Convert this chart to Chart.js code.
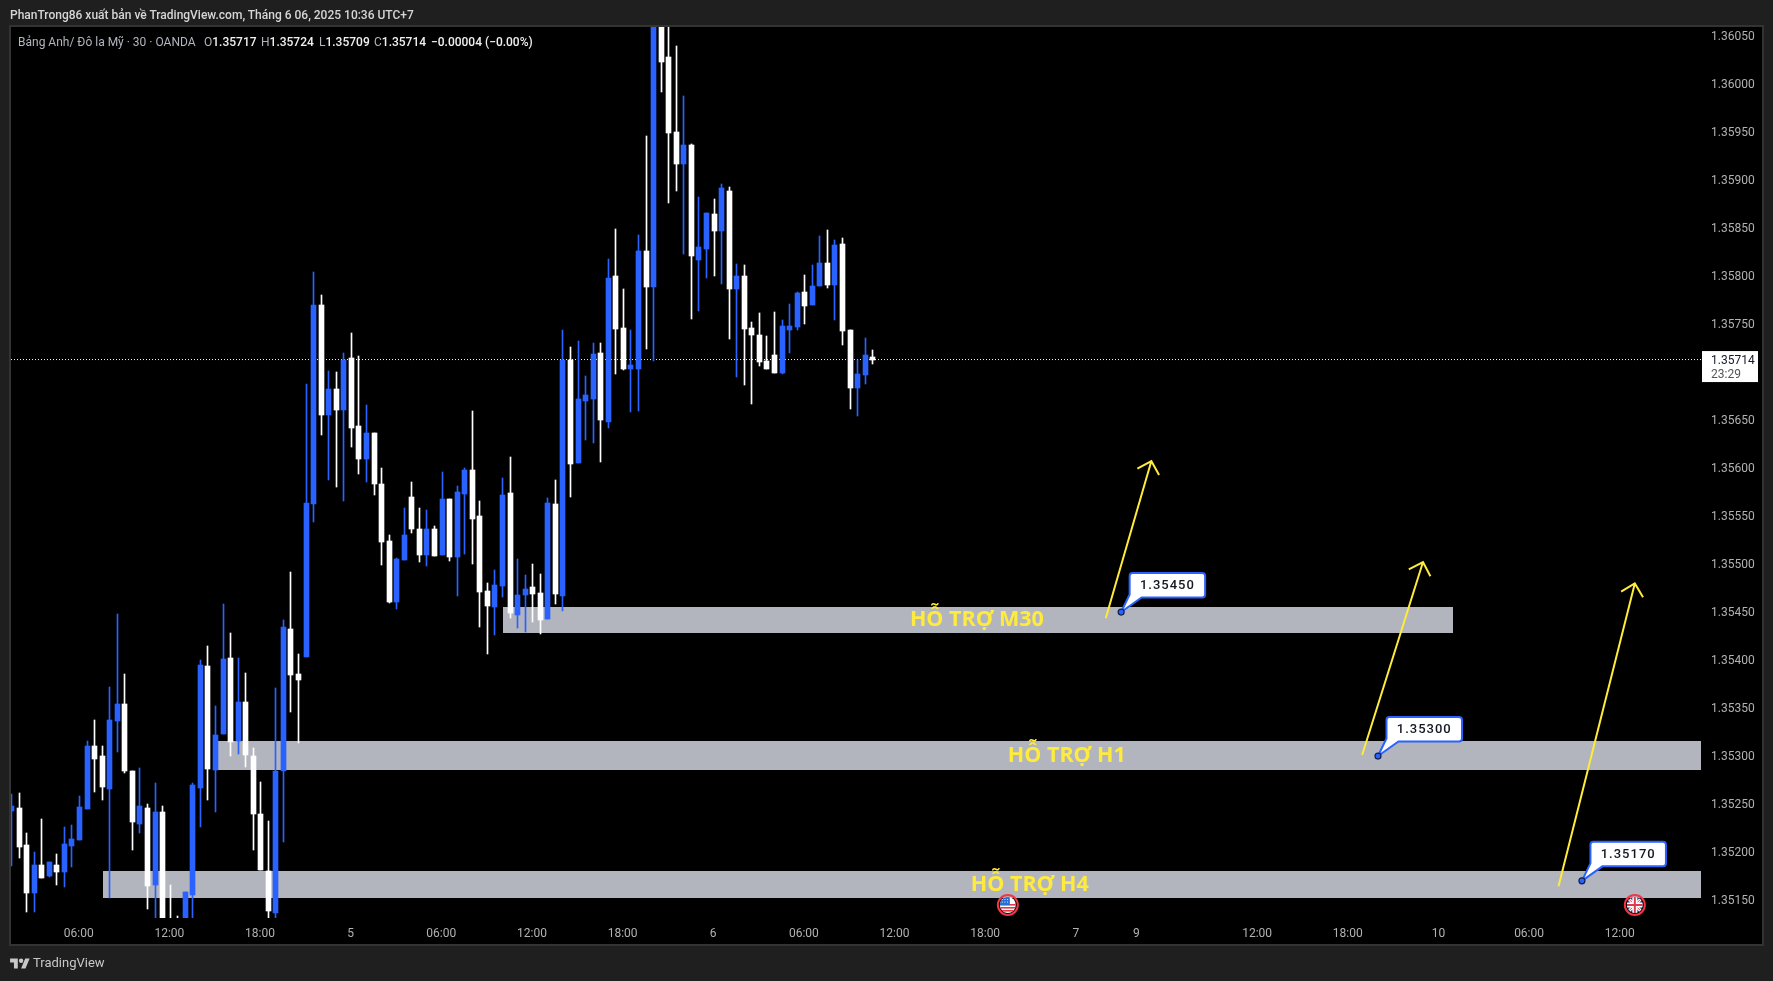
<!DOCTYPE html>
<html lang="vi">
<head>
<meta charset="utf-8">
<title>GBPUSD 30</title>
<script src="https://cdn.jsdelivr.net/npm/chart.js@4/dist/chart.umd.min.js"></script>
<style>
  html, body { margin: 0; padding: 0; background: #1f1f1f; }
  body { width: 1773px; height: 981px; position: relative; overflow: hidden; font-family: Roboto, sans-serif; }
  canvas { position: absolute; left: 0; top: 0; }
  .txt { position: absolute; white-space: nowrap; line-height: 16px; font-size: 12px; color: #b2b5be; }
  .txt b { color: #f0f0f0; font-weight: 500; }
  #byline { left: 10px; top: 7px; color: #d6d6d6; font-weight: 500; }
  #brand { left: 33px; top: 954px; font-size: 13px; line-height: 18px; color: #c8c8c8; }
  #logo { position: absolute; left: 10px; top: 958px; }
</style>
</head>
<body>
<canvas id="grafico" width="1773" height="981"></canvas>
<div class="txt" id="byline">PhanTrong86 xuất bản về TradingView.com, Tháng 6 06, 2025 10:36 UTC+7</div>
<div class="txt" style="left:18px;top:34px">Bảng Anh/ Đô la Mỹ · 30 · OANDA</div>
<div class="txt" style="left:204px;top:34px">O<b>1.35717</b></div>
<div class="txt" style="left:261px;top:34px">H<b>1.35724</b></div>
<div class="txt" style="left:319px;top:34px">L<b>1.35709</b></div>
<div class="txt" style="left:374px;top:34px">C<b>1.35714</b></div>
<div class="txt" style="left:431px;top:34px"><b>−0.00004 (−0.00%)</b></div>
<svg id="logo" width="20" height="11" viewBox="0 3 36 20"><path fill="#c8c8c8" d="M14 22H7V11H0V4h14v18zM28 22h-8l7.5-18h8L28 22z"/><circle fill="#c8c8c8" cx="20" cy="8" r="4"/></svg>
<div class="txt" id="brand">TradingView</div>
<script>
// 30 minute bars, bar 0 is the 06:00 label of the first day
const firstBar = -9;
const opens = [
  1.35244,1.35247,1.35208,1.35158,1.35188,1.35176,1.35188,1.35180,1.35207,1.35214,
  1.35246,1.35311,1.35301,1.35267,1.35338,1.35355,1.35285,1.35230,1.35247,1.35167,
  1.35243,1.35127,1.35128,1.35123,1.35156,1.35268,1.35395,1.35286,1.35324,1.35403,
  1.35317,1.35357,1.35301,1.35241,1.35181,1.35138,1.35285,1.35433,1.35386,1.35404,
  1.35564,1.35771,1.35656,1.35683,1.35661,1.35716,1.35645,1.35610,1.35638,1.35584,
  1.35525,1.35461,1.35505,1.35571,1.35538,1.35510,1.35538,1.35510,1.35569,1.35508,
  1.35574,1.35599,1.35551,1.35473,1.35456,1.35478,1.35575,1.35448,1.35469,1.35477,
  1.35471,1.35444,1.35564,1.35468,1.35714,1.35606,1.35671,1.35673,1.35721,1.35649,
  1.35801,1.35747,1.35704,1.35704,1.35827,1.35790,1.36105,1.36029,1.35951,1.35918,
  1.35938,1.35818,1.35829,1.35866,1.35848,1.35890,1.35788,1.35801,1.35747,1.35740,
  1.35712,1.35719,1.35700,1.35745,1.35748,1.35784,1.35771,1.35791,1.35815,1.35792,
  1.35834,1.35745,1.35684,1.35698,1.35717
];
const highs = [
  1.35261,1.35262,1.35221,1.35201,1.35235,1.35191,1.35199,1.35227,1.35229,1.35259,
  1.35317,1.35339,1.35311,1.35373,1.35449,1.35386,1.35285,1.35289,1.35251,1.35273,
  1.35249,1.35167,1.35134,1.35159,1.35273,1.35401,1.35416,1.35353,1.35459,1.35429,
  1.35403,1.35388,1.35309,1.35274,1.35233,1.35372,1.35443,1.35493,1.35407,1.35689,
  1.35805,1.35781,1.35702,1.35701,1.35721,1.35742,1.35718,1.35667,1.35638,1.35601,
  1.35531,1.35507,1.35559,1.35586,1.35559,1.35557,1.35541,1.35597,1.35569,1.35582,
  1.35601,1.35660,1.35567,1.35481,1.35495,1.35591,1.35613,1.35506,1.35490,1.35501,
  1.35491,1.35570,1.35589,1.35745,1.35727,1.35733,1.35697,1.35731,1.35731,1.35819,
  1.35850,1.35788,1.35745,1.35844,1.35947,1.36130,1.36120,1.36090,1.36041,1.35989,
  1.35939,1.35883,1.35867,1.35881,1.35897,1.35894,1.35814,1.35813,1.35753,1.35763,
  1.35739,1.35764,1.35755,1.35772,1.35784,1.35802,1.35813,1.35843,1.35849,1.35839,
  1.35841,1.35745,1.35714,1.35736,1.35724
];
const lows = [
  1.35186,1.35195,1.35139,1.35139,1.35174,1.35175,1.35167,1.35165,1.35185,1.35214,
  1.35246,1.35264,1.35255,1.35153,1.35305,1.35283,1.35203,1.35221,1.35142,1.35120,
  1.35109,1.35099,1.35105,1.35118,1.35127,1.35227,1.35255,1.35243,1.35324,1.35301,
  1.35303,1.35290,1.35203,1.35182,1.35129,1.35129,1.35211,1.35347,1.35315,1.35404,
  1.35545,1.35635,1.35589,1.35581,1.35567,1.35623,1.35595,1.35586,1.35573,1.35500,
  1.35460,1.35454,1.35505,1.35533,1.35503,1.35499,1.35509,1.35510,1.35504,1.35468,
  1.35511,1.35501,1.35435,1.35407,1.35427,1.35467,1.35445,1.35434,1.35430,1.35441,
  1.35428,1.35444,1.35459,1.35452,1.35571,1.35606,1.35630,1.35627,1.35607,1.35643,
  1.35699,1.35703,1.35659,1.35660,1.35725,1.35713,1.35993,1.35877,1.35890,1.35824,
  1.35756,1.35765,1.35799,1.35801,1.35793,1.35735,1.35696,1.35688,1.35668,1.35707,
  1.35704,1.35700,1.35699,1.35721,1.35745,1.35751,1.35771,1.35791,1.35789,1.35755,
  1.35729,1.35663,1.35655,1.35689,1.35709
];
const closes = [
  1.35249,1.35206,1.35158,1.35187,1.35174,1.35191,1.35180,1.35209,1.35215,1.35248,
  1.35311,1.35298,1.35269,1.35339,1.35355,1.35285,1.35232,1.35249,1.35166,1.35243,
  1.35116,1.35106,1.35112,1.35159,1.35271,1.35396,1.35288,1.35323,1.35402,1.35316,
  1.35357,1.35302,1.35241,1.35182,1.35140,1.35285,1.35435,1.35385,1.35380,1.35565,
  1.35771,1.35656,1.35683,1.35661,1.35714,1.35643,1.35610,1.35638,1.35584,1.35524,
  1.35461,1.35506,1.35531,1.35538,1.35510,1.35538,1.35509,1.35569,1.35508,1.35576,
  1.35599,1.35548,1.35472,1.35457,1.35479,1.35573,1.35450,1.35469,1.35475,1.35470,
  1.35443,1.35565,1.35470,1.35714,1.35605,1.35673,1.35677,1.35720,1.35651,1.35799,
  1.35746,1.35704,1.35708,1.35827,1.35790,1.36110,1.36024,1.35950,1.35918,1.35938,
  1.35822,1.35831,1.35867,1.35848,1.35893,1.35788,1.35801,1.35746,1.35740,1.35711,
  1.35704,1.35700,1.35749,1.35749,1.35783,1.35770,1.35791,1.35815,1.35792,1.35833,
  1.35744,1.35684,1.35699,1.35719,1.35714
];
const priceTicks = [1.3605,1.36,1.3595,1.359,1.3585,1.358,1.3575,1.3565,1.356,1.3555,1.355,1.3545,1.354,1.3535,1.353,1.3525,1.352,1.3515];
const timeTickBars = [0,12,24,36,48,60,72,84,96,108,120,132,140,156,168,180,192,204];
const timeTickLabels = ["06:00","12:00","18:00","5","06:00","12:00","18:00","6","06:00","12:00","18:00","7","9","12:00","18:00","10","06:00","12:00"];
const lastPrice = 1.35714;
const countdown = "23:29";

// support zones: label, top price, bottom price, start bar, end bar, label bar
const zoneNames = ["HỖ TRỢ M30","HỖ TRỢ H1","HỖ TRỢ H4"];
const zoneTops = [1.354562,1.353167,1.351812];
const zoneBottoms = [1.354291,1.352864,1.351531];
const zoneStarts = [56.17,18.35,3.2];
const zoneEnds = [181.9,214.76,214.76];
const zoneLabelBars = [118.9,130.8,125.9];

// arrows and price notes
const arrowFromBars = [135.96,169.9,195.9];
const arrowFromPrices = [1.354445,1.353021,1.351653];
const arrowToBars = [142,177.96,206];
const arrowToPrices = [1.356083,1.355031,1.354808];
const noteBars = [138,172,199];
const notePrices = [1.35451,1.35301,1.35171];
const noteLabels = ["1.35450","1.35300","1.35170"];

const BLUE = "#2962ff";
const YELLOW = "#ffeb3b";
const AXIS_FONT = { family: "Roboto", size: 12 };

const bars = opens.map((_, i) => i + firstBar);
const candleColors = opens.map((o, i) => closes[i] >= o ? BLUE : "#ffffff");

// keeps candles on whole pixels so they stay sharp like the original
const snapPlugin = {
  id: "snap",
  afterDatasetsUpdate(chart) {
    chart.data.datasets.forEach((ds, idx) => {
      if (ds.type === "line") return;
      chart.getDatasetMeta(idx).data.forEach(el => {
        el.x = Math.floor(el.x + 0.8) + 0.5;
        el.y = Math.round(el.y);
        el.base = Math.round(el.base);
      });
    });
  }
};

const panePlugin = {
  id: "pane",
  beforeDraw(chart) {
    const ctx = chart.ctx;
    ctx.save();
    ctx.fillStyle = "#000000";
    ctx.strokeStyle = "#333333";
    ctx.lineWidth = 2;
    ctx.fillRect(10, 26, 1753, 919);
    ctx.strokeRect(10, 26, 1753, 919);
    ctx.restore();
  },
  beforeDatasetsDraw(chart) {
    const { ctx, scales: { x, y }, chartArea } = chart;
    ctx.save();
    ctx.beginPath();
    ctx.rect(chartArea.left, chartArea.top, chartArea.width, chartArea.height);
    ctx.clip();
    ctx.fillStyle = "#b2b5be";
    zoneNames.forEach((_, i) => {
      const x0 = Math.round(x.getPixelForValue(zoneStarts[i]));
      const x1 = Math.round(x.getPixelForValue(zoneEnds[i]));
      const y0 = Math.round(y.getPixelForValue(zoneTops[i]));
      const y1 = Math.round(y.getPixelForValue(zoneBottoms[i]));
      ctx.fillRect(x0, y0, x1 - x0, y1 - y0);
    });
    ctx.restore();
  }
};

function drawArrow(ctx, x0, y0, x1, y1) {
  const ang = Math.atan2(y0 - y1, x0 - x1);
  const head = 16;
  ctx.strokeStyle = YELLOW;
  ctx.lineWidth = 2;
  ctx.beginPath();
  ctx.moveTo(x0, y0);
  ctx.lineTo(x1, y1);
  ctx.moveTo(x1 + head * Math.cos(ang - Math.PI / 4), y1 + head * Math.sin(ang - Math.PI / 4));
  ctx.lineTo(x1, y1);
  ctx.lineTo(x1 + head * Math.cos(ang + Math.PI / 4), y1 + head * Math.sin(ang + Math.PI / 4));
  ctx.stroke();
}

function drawNote(ctx, ax, ay, label) {
  const L = ax + 8.5, R = ax + 84, T = ay - 39, B = ay - 14.5, r = 3;
  ctx.beginPath();
  ctx.moveTo(L + r, T);
  ctx.lineTo(R - r, T);
  ctx.arcTo(R, T, R, T + r, r);
  ctx.lineTo(R, B - r);
  ctx.arcTo(R, B, R - r, B, r);
  ctx.lineTo(L + 12, B);
  ctx.lineTo(ax, ay);
  ctx.lineTo(L, B - 3);
  ctx.lineTo(L, T + r);
  ctx.arcTo(L, T, L + r, T, r);
  ctx.closePath();
  ctx.fillStyle = "#ffffff";
  ctx.strokeStyle = BLUE;
  ctx.lineWidth = 2;
  ctx.fill();
  ctx.stroke();
  ctx.beginPath();
  ctx.arc(ax, ay, 3, 0, Math.PI * 2);
  ctx.fillStyle = BLUE;
  ctx.fill();
  ctx.strokeStyle = "#10204a";
  ctx.lineWidth = 1.2;
  ctx.stroke();
  ctx.fillStyle = "#131722";
  ctx.font = "500 13px Roboto";
  ctx.letterSpacing = "1px";
  ctx.textAlign = "center";
  ctx.textBaseline = "middle";
  ctx.fillText(label, (L + R) / 2, (T + B) / 2 + 0.5);
  ctx.letterSpacing = "0px";
}

function drawFlag(ctx, cx, cy, paint) {
  ctx.save();
  ctx.beginPath();
  ctx.arc(cx, cy, 10, 0, Math.PI * 2);
  ctx.strokeStyle = "#f23645";
  ctx.lineWidth = 2;
  ctx.stroke();
  ctx.beginPath();
  ctx.arc(cx, cy, 8, 0, Math.PI * 2);
  ctx.clip();
  paint(ctx, cx - 8, cy - 8);
  ctx.restore();
}

function paintUS(ctx, x, y) {
  ctx.fillStyle = "#ffffff";
  ctx.fillRect(x, y, 16, 16);
  ctx.fillStyle = "#e0394a";
  [7, 10, 13].forEach(s => ctx.fillRect(x, y + s, 16, 1.6));
  ctx.fillStyle = "#2b6cd4";
  ctx.fillRect(x, y, 10, 8);
  ctx.fillStyle = "#dfe8ff";
  for (let i = 0; i < 3; i++) for (let j = 0; j < 2; j++) ctx.fillRect(x + 2 + i * 2.6, y + 2 + j * 2.6, 1, 1);
}

function paintUK(ctx, x, y) {
  ctx.fillStyle = "#27408b";
  ctx.fillRect(x, y, 16, 16);
  ctx.strokeStyle = "#ffffff";
  ctx.lineWidth = 3;
  ctx.beginPath();
  ctx.moveTo(x, y); ctx.lineTo(x + 16, y + 16);
  ctx.moveTo(x + 16, y); ctx.lineTo(x, y + 16);
  ctx.stroke();
  ctx.strokeStyle = "#e0394a";
  ctx.lineWidth = 1;
  ctx.stroke();
  ctx.fillStyle = "#ffffff";
  ctx.fillRect(x + 5.5, y, 5, 16);
  ctx.fillRect(x, y + 5.5, 16, 5);
  ctx.fillStyle = "#e0394a";
  ctx.fillRect(x + 7, y, 2, 16);
  ctx.fillRect(x, y + 7, 16, 2);
}

const marksPlugin = {
  id: "marks",
  afterDatasetsDraw(chart) {
    const { ctx, scales: { x, y } } = chart;
    ctx.save();

    // zone names
    ctx.fillStyle = YELLOW;
    ctx.font = "bold 21.5px 'Open Sans'";
    ctx.textAlign = "center";
    ctx.textBaseline = "middle";
    zoneNames.forEach((name, i) => {
      const mid = (zoneTops[i] + zoneBottoms[i]) / 2;
      ctx.fillText(name, x.getPixelForValue(zoneLabelBars[i]), y.getPixelForValue(mid));
    });

    arrowFromBars.forEach((_, i) => {
      drawArrow(ctx, x.getPixelForValue(arrowFromBars[i]), y.getPixelForValue(arrowFromPrices[i]),
        x.getPixelForValue(arrowToBars[i]), y.getPixelForValue(arrowToPrices[i]));
    });

    noteBars.forEach((bar, i) => {
      drawNote(ctx, x.getPixelForValue(bar), y.getPixelForValue(notePrices[i]), noteLabels[i]);
    });

    // economic calendar events
    drawFlag(ctx, x.getPixelForValue(123), 905, paintUS);
    drawFlag(ctx, x.getPixelForValue(206), 905, paintUK);

    // last price tag
    const tagY = y.getPixelForValue(lastPrice);
    ctx.fillStyle = "#ffffff";
    ctx.fillRect(1702, tagY - 8.5, 56, 31);
    ctx.textAlign = "left";
    ctx.font = "12px Roboto";
    ctx.fillStyle = "#131722";
    ctx.fillText(lastPrice.toFixed(5), 1711, tagY + 1);
    ctx.fillStyle = "#555555";
    ctx.fillText(countdown, 1711, tagY + 15);
    ctx.restore();
  }
};

new Chart(document.getElementById("grafico"), {
  type: "bar",
  data: {
    datasets: [
      {
        label: "Cuerpo",
        data: bars.map((b, i) => ({ x: b, y: [opens[i], closes[i]] })),
        backgroundColor: candleColors,
        barThickness: 5,
        grouped: false,
        order: 0
      },
      {
        label: "Mecha",
        data: bars.map((b, i) => ({ x: b, y: [lows[i], highs[i]] })),
        backgroundColor: candleColors,
        barThickness: 1,
        grouped: false,
        order: 1
      },
      {
        type: "line",
        label: "Último",
        data: [{ x: -8.96, y: lastPrice }, { x: 214.76, y: lastPrice }],
        borderColor: "#ffffff",
        borderWidth: 1,
        borderDash: [1, 2],
        pointRadius: 0,
        order: 2
      }
    ]
  },
  options: {
    responsive: false,
    devicePixelRatio: 1,
    animation: false,
    layout: { padding: { left: 11, top: 27, right: 10, bottom: 36 } },
    plugins: { legend: { display: false }, tooltip: { enabled: false }, title: { display: false } },
    scales: {
      x: {
        type: "linear",
        offset: false,
        min: -8.96,
        max: 214.76,
        grid: { display: false, drawTicks: false },
        border: { display: false },
        afterBuildTicks: s => { s.ticks = timeTickBars.map(v => ({ value: v })); },
        afterFit: s => { s.height = 27; },
        ticks: {
          color: "#b2b2b2",
          font: AXIS_FONT,
          padding: 9,
          autoSkip: false,
          maxRotation: 0,
          callback: (v, i) => timeTickLabels[i]
        }
      },
      y: {
        position: "right",
        min: 1.351323,
        max: 1.360604,
        grid: { display: false, drawTicks: false },
        border: { display: false },
        afterBuildTicks: s => { s.ticks = priceTicks.map(v => ({ value: v })); },
        afterFit: s => { s.width = 62; },
        ticks: {
          color: "#b2b2b2",
          font: AXIS_FONT,
          padding: 10,
          autoSkip: false,
          callback: v => v.toFixed(5)
        }
      }
    }
  },
  plugins: [snapPlugin, panePlugin, marksPlugin]
});
</script>
</body>
</html>
